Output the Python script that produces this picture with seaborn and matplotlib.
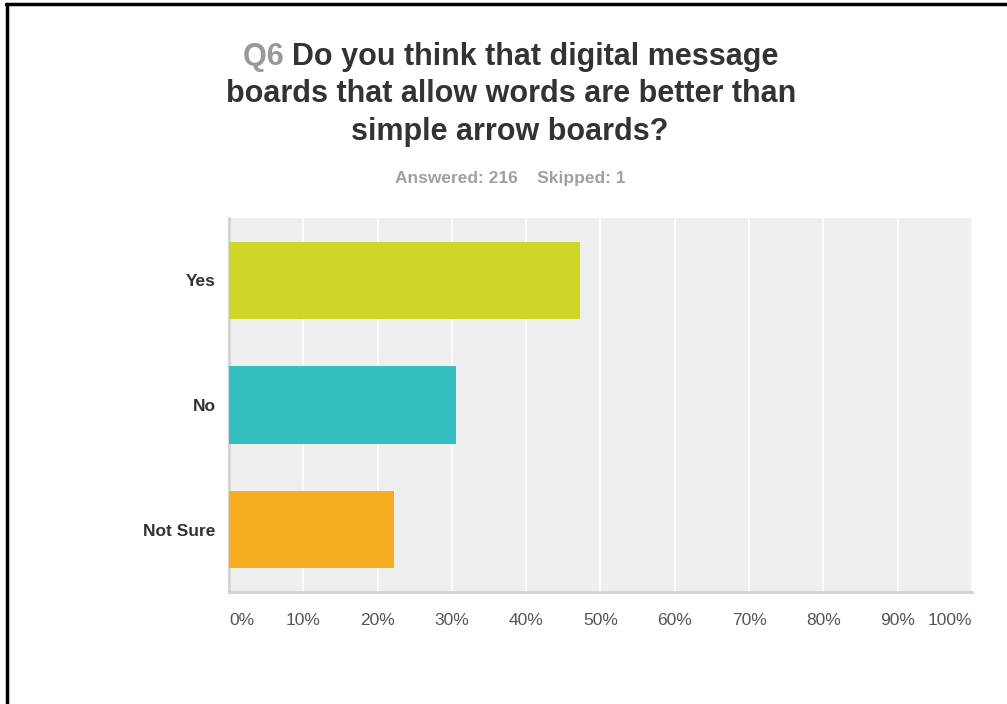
import pandas as pd
import matplotlib.pyplot as plt
import seaborn as sns
from matplotlib.lines import Line2D

# Veriler (216 yanıt)
answers = ["Yes", "No", "Not Sure"]
percents = [47.22, 30.56, 22.22]
bar_colors = ["#cfd628", "#33bec0", "#f6ae20"]
tick_values = [0, 10, 20, 30, 40, 50, 60, 70, 80, 90, 100]
tick_labels = ["0%", "10%", "20%", "30%", "40%", "50%", "60%", "70%", "80%", "90%", "100%"]

df = pd.DataFrame({"answer": answers, "percent": percents})

sns.set_style("white")
plt.rcParams["font.family"] = ["Liberation Sans", "DejaVu Sans"]

fig = plt.figure(figsize=(10.07, 7.04), dpi=100)
ax = fig.add_axes([0.2274, 0.1591, 0.7378, 0.5312])

sns.barplot(data=df, x="percent", y="answer", hue="answer", palette=bar_colors,
            order=answers, hue_order=answers, width=0.62, legend=False, ax=ax,
            saturation=1, linewidth=0, zorder=3)

# Arka plan ve ızgara
ax.set_facecolor("#efefef")
ax.set_xlim(0, 100)
ax.set_ylim(2.5, -0.5)
ax.set_xticks(tick_values)
ax.set_xticklabels(tick_labels)
ax.grid(axis="x", color="white", linewidth=1.2, zorder=0)
ax.set_axisbelow(True)
ax.tick_params(axis="both", length=0)
ax.tick_params(axis="x", labelsize=12.5, labelcolor="#555555", pad=15)
ax.tick_params(axis="y", labelsize=12.5, labelcolor="#333333", pad=9.5)
for lbl in ax.get_yticklabels():
    lbl.set_fontweight("bold")
xt = ax.get_xticklabels()
xt[0].set_horizontalalignment("left")
xt[-1].set_horizontalalignment("right")
ax.set_xlabel("")
ax.set_ylabel("")

for side in ["top", "right"]:
    ax.spines[side].set_visible(False)
for side in ["left", "bottom"]:
    ax.spines[side].set_color("#d3d3d3")
    ax.spines[side].set_linewidth(2)

# Başlık: ilk satır iki renkli
renderer = fig.canvas.get_renderer()
title_kw = dict(fontsize=22, fontweight="bold", va="baseline")
q = fig.text(0, 0, "Q6 ", color="#999999", **title_kw)
rest = fig.text(0, 0, "Do you think that digital message", color="#333333", **title_kw)
w_q = q.get_window_extent(renderer).width
w_r = rest.get_window_extent(renderer).width
x0 = (511 - (w_q + w_r) / 2) / 1007
y1 = 1 - 65 / 704
q.set_position((x0, y1))
rest.set_position((x0 + w_q / 1007, y1))
fig.text(511 / 1007, 1 - 102.5 / 704, "boards that allow words are better than",
         color="#333333", ha="center", **title_kw)
fig.text(510 / 1007, 1 - 140 / 704, "simple arrow boards?",
         color="#333333", ha="center", **title_kw)

fig.text(510 / 1007, 1 - 183 / 704, "Answered: 216    Skipped: 1",
         color="#a0a0a0", ha="center", va="baseline", fontsize=12.5, fontweight="bold")

# Çerçeve çizgileri (üst ve sol)
fig.add_artist(Line2D([0.006, 1], [1 - 4 / 704, 1 - 4 / 704], color="black", linewidth=2.5))
fig.add_artist(Line2D([7 / 1007, 7 / 1007], [0, 1 - 4 / 704], color="black", linewidth=2.5))

fig.savefig("out.png", dpi=100)
